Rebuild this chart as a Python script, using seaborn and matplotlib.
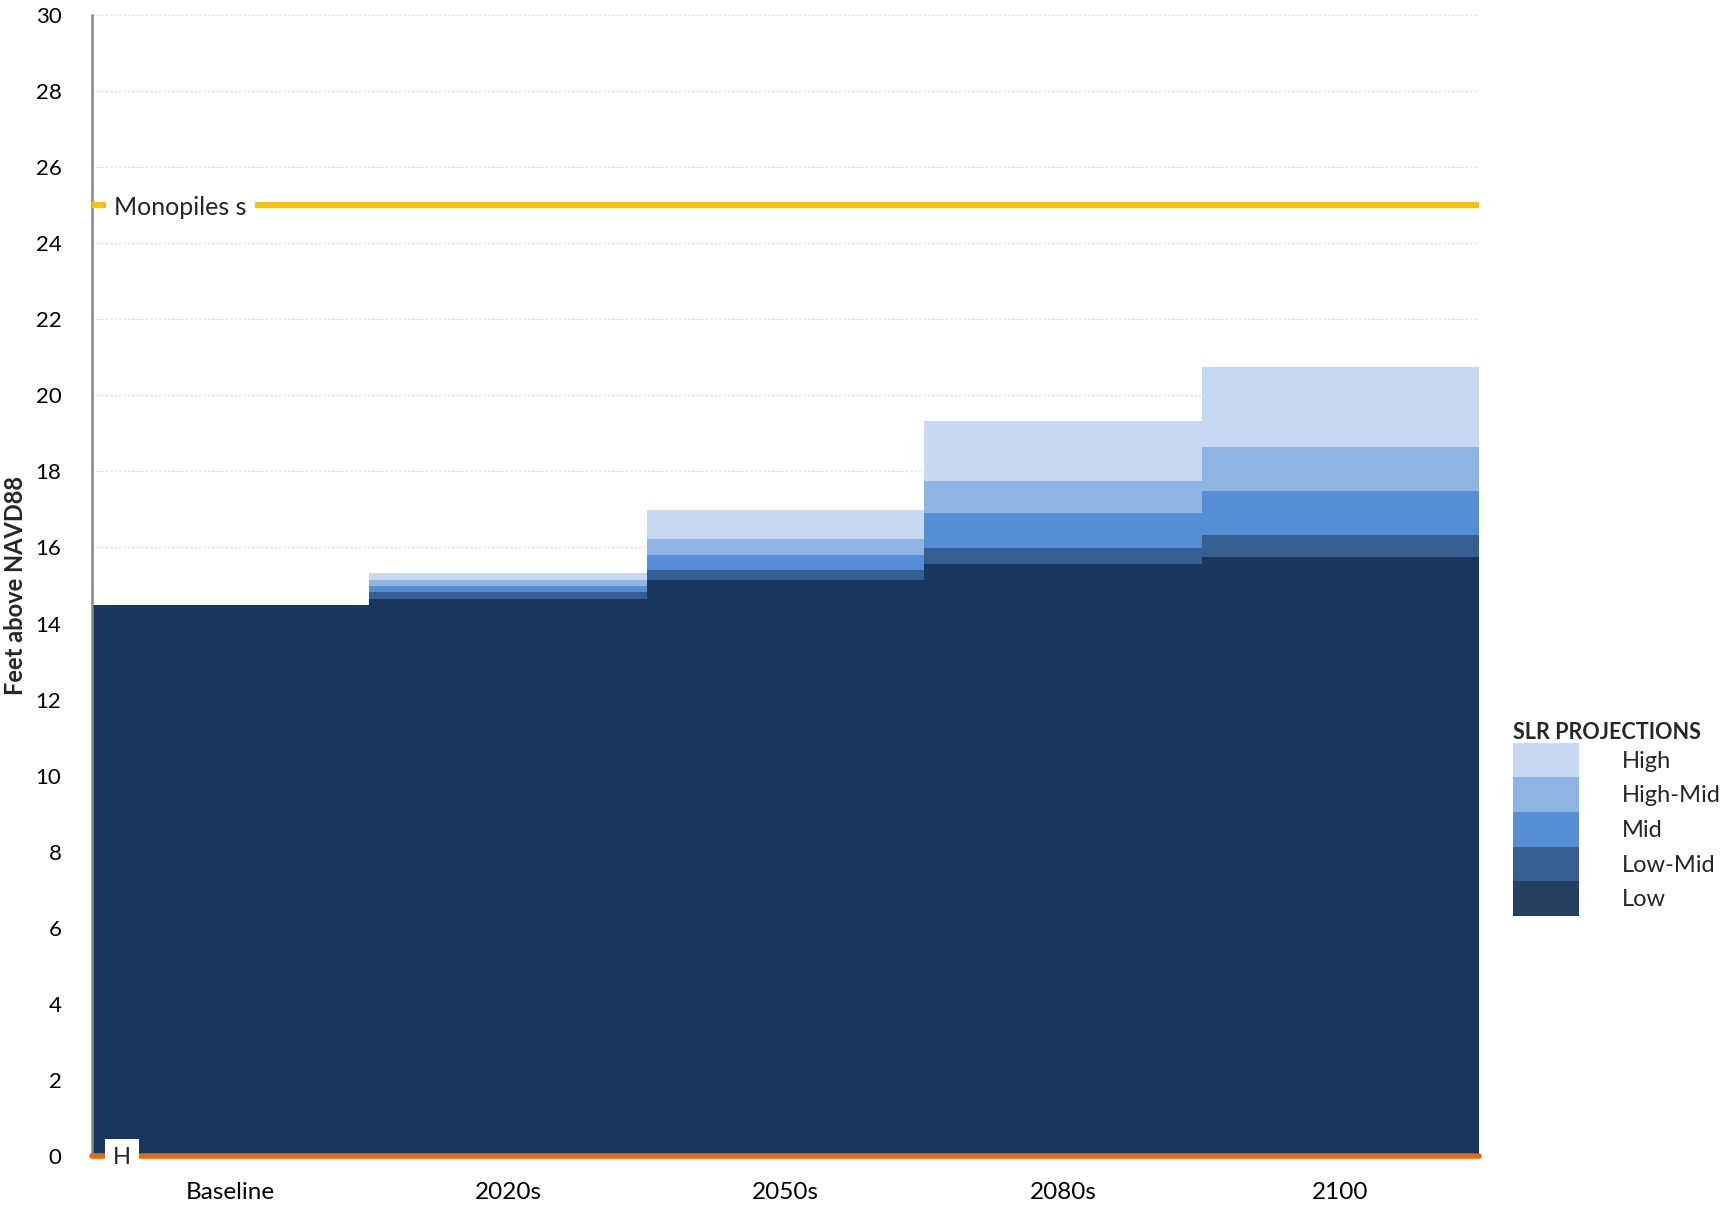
import matplotlib
matplotlib.use("Agg")
import matplotlib.pyplot as plt
import matplotlib.patches as mpatches
import seaborn as sns
import pandas as pd

# ---- data ----
categories = ["Baseline", "2020s", "2050s", "2080s", "2100"]
scenarios = ["High", "High-Mid", "Mid", "Low-Mid", "Low"]
high = [14.5, 15.32, 16.99, 19.32, 20.74]
high_mid = [14.5, 15.15, 16.23, 17.75, 18.65]
mid = [14.5, 14.98, 15.81, 16.90, 17.49]
low_mid = [14.5, 14.82, 15.41, 15.99, 16.32]
low = [14.5, 14.65, 15.15, 15.57, 15.74]
series = [high, high_mid, mid, low_mid, low]
colors = ["#C6D9F0", "#8DB4E2", "#558ED5", "#366092", "#17375E"]
legend_colors = ["#C6D9F0", "#8DB4E2", "#558ED5", "#366092", "#243F60"]
monopile_level = 25
h_level = 0
yticks = list(range(0, 31, 2))

sns.set_theme(style="white")
plt.rcParams["font.family"] = ["Lato", "DejaVu Sans"]

fig = plt.figure(figsize=(17.22, 12.09), dpi=100)
ax = fig.add_axes([0.0534, 0.0438, 0.8056, 0.9438])

for name, vals, col in zip(scenarios, series, colors):
    df = pd.DataFrame({"cat": categories, "val": vals})
    sns.barplot(data=df, x="cat", y="val", order=categories, color=col,
                width=1.0, saturation=1, errorbar=None, linewidth=0, ax=ax, zorder=2)

ax.set_xlim(-0.5, len(categories) - 0.5)
ax.set_ylim(0, 30)
ax.set_yticks(yticks)
ax.set_yticklabels([str(t) for t in yticks], fontsize=16, color="black")
ax.set_xlabel("")
ax.set_ylabel("Feet above NAVD88", fontsize=17, fontweight="bold")
ax.yaxis.set_label_coords(-0.047, 0.5)
ax.tick_params(axis="y", length=0, pad=22)
ax.tick_params(axis="x", which="major", length=0, pad=19, labelsize=17.5, labelcolor="black")
ax.set_xticks([i - 0.5 for i in range(len(categories) + 1)], minor=True)
ax.tick_params(axis="x", which="minor", length=7, width=1.2, color="#868686", direction="out")
ax.yaxis.grid(True, color="#D9D9D9", linestyle=(0, (2, 2)), linewidth=0.8, zorder=0)
ax.set_axisbelow(True)

for s in ["top", "right"]:
    ax.spines[s].set_visible(False)
ax.spines["left"].set_color("#868686")
ax.spines["left"].set_linewidth(1.8)
ax.spines["bottom"].set_color("#868686")
ax.spines["bottom"].set_linewidth(1.2)

ax.axhline(monopile_level, color="#FFC000", lw=4.5, zorder=3)
ax.axhline(h_level, color="#E36C09", lw=4, zorder=3, clip_on=False)

ax.text(-0.42, monopile_level - 0.05, "Monopiles s", fontsize=18, va="center", ha="left",
        bbox=dict(facecolor="white", edgecolor="none", pad=6), zorder=4)
ax.text(-0.392, h_level - 0.05, "H", fontsize=17, va="center", ha="center",
        bbox=dict(facecolor="white", edgecolor="none", pad=6), zorder=4)

handles = [mpatches.Patch(facecolor=c, edgecolor="none") for c in legend_colors]
leg = fig.legend(handles, scenarios, loc="upper left", bbox_to_anchor=(0.8787, 0.403),
                 frameon=False, fontsize=17, title="SLR PROJECTIONS",
                 title_fontproperties={"weight": "bold", "size": 15.5},
                 handlelength=2.8, handleheight=1.88, labelspacing=0,
                 handletextpad=1.8, borderpad=0, borderaxespad=0, alignment="left")

fig.savefig("out.png", dpi=100)
